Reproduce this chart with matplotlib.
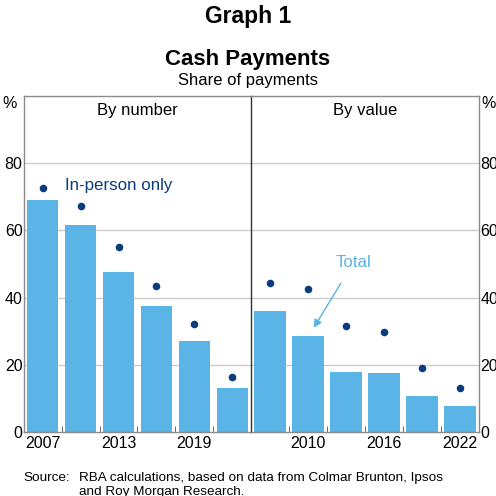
import matplotlib.pyplot as plt
import numpy as np

plt.rcParams['font.family'] = ['Liberation Sans', 'DejaVu Sans']

years = [2007, 2010, 2013, 2016, 2019, 2022]
number_total = [69.0, 61.5, 47.5, 37.4, 27.0, 13.2]
number_inperson = [72.7, 67.4, 55.0, 43.4, 32.0, 16.4]
value_total = [36.1, 28.5, 18.0, 17.6, 10.7, 7.6]
value_inperson = [44.4, 42.6, 31.6, 29.9, 18.9, 13.1]
yticks = [0, 20, 40, 60, 80]

bar_col = '#5ab4e5'
dot_col = '#0b3c7d'
frame_col = '#8a8a8a'
grid_col = '#cccccc'

fig = plt.figure(figsize=(4.96, 4.96), dpi=100)
ax1 = fig.add_axes([24/496, 1-432/496, 227/496, 336/496])
ax2 = fig.add_axes([251/496, 1-432/496, 228/496, 336/496])

x = np.arange(len(years))
panels = [(ax1, number_total, number_inperson, 'By number', [0, 2, 4]),
          (ax2, value_total, value_inperson, 'By value', [1, 3, 5])]

for ax, tot, inp, name, lab_idx in panels:
    ax.bar(x, tot, width=0.82, color=bar_col, zorder=2)
    ax.scatter(x, inp, s=30, color=dot_col, zorder=3, linewidths=0)
    ax.set_xlim(-0.5, 5.5)
    ax.set_ylim(0, 100)
    for v in yticks[1:]:
        ax.axhline(v, color=grid_col, lw=1, zorder=1)
    ax.set_yticks(yticks)
    ax.set_xticks([x[i] for i in lab_idx])
    ax.set_xticklabels([str(years[i]) for i in lab_idx], fontsize=11.5)
    ax.set_xticks(x[:-1] + 0.5, minor=True)
    ax.tick_params(axis='x', which='major', length=0, pad=3)
    ax.tick_params(axis='x', which='minor', direction='in', length=4, color='#555555')
    ax.tick_params(axis='y', length=0, labelsize=11.5)
    for s in ax.spines.values():
        s.set_color(frame_col)
        s.set_linewidth(1)
    ax.text(0.5, 0.978, name, transform=ax.transAxes, ha='center', va='top', fontsize=12)

# dark divider between the two panels
ax1.spines['right'].set_visible(False)
ax2.spines['left'].set_color('#333333')
ax1.tick_params(axis='y', pad=1)
ax2.yaxis.tick_right()
ax2.tick_params(axis='y', pad=1, labelsize=11.5)

fig.text(10/496, 1-103/496, '%', ha='center', va='center', fontsize=11.5)
fig.text(489/496, 1-103/496, '%', ha='center', va='center', fontsize=11.5)

ax1.text(0.58, 73.5, 'In-person only', color=dot_col, fontsize=12.2, va='center')
ax2.annotate('Total', xy=(1.15, 31), xytext=(2.2, 50.5), color=bar_col, fontsize=12.2,
             ha='center', va='center',
             arrowprops=dict(arrowstyle='-|>', color=bar_col, lw=1, mutation_scale=12,
                             shrinkA=9, shrinkB=0))

fig.text(0.5, 1-17/496, 'Graph 1', ha='center', va='center', fontsize=16.5, fontweight='bold')
fig.text(0.5, 1-60/496, 'Cash Payments', ha='center', va='center', fontsize=16, fontweight='bold')
fig.text(0.5, 1-80/496, 'Share of payments', ha='center', va='center', fontsize=12)

fig.text(23/496, 1-478/496, 'Source:', ha='left', va='center', fontsize=9.7)
fig.text(79/496, 1-478/496, 'RBA calculations, based on data from Colmar Brunton, Ipsos',
         ha='left', va='center', fontsize=9.7)
fig.text(79/496, 1-492/496, 'and Roy Morgan Research.', ha='left', va='center', fontsize=9.7)

fig.savefig('out.png', dpi=100)
